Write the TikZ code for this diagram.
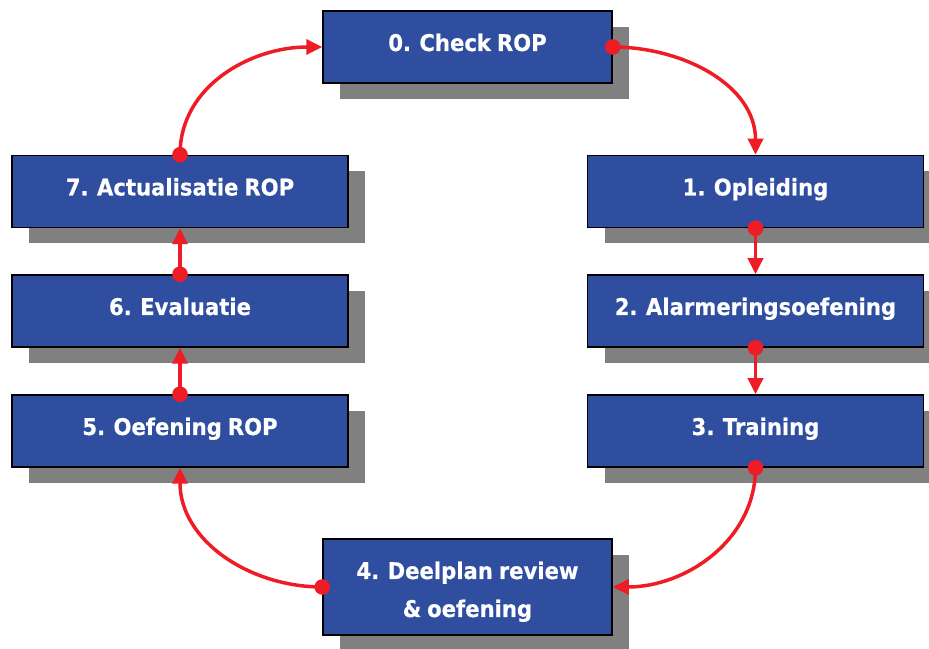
\documentclass[tikz,border=0pt]{standalone}
\usepackage{fontspec}
\setmainfont{DejaVu Sans}[FakeStretch=0.92, WordSpace=0.8, FakeBold=0.4]
\usetikzlibrary{arrows.meta,shadows}
\definecolor{boxblue}{HTML}{2F4EA0}
\definecolor{arrred}{HTML}{EE1C25}
\definecolor{shadowgray}{HTML}{808080}
\tikzset{
  stepbox/.style={draw=black, line width=1.5pt, fill=boxblue, rectangle, inner sep=0pt,
    minimum height=72pt, text=white,
    font=\fontsize{23}{38}\selectfont\bfseries,
    text height=16pt, text depth=8pt,
    drop shadow={shadow xshift=17pt, shadow yshift=-16pt, opacity=1, fill=shadowgray}},
  widebox/.style={stepbox, minimum width=336pt},
  narrowbox/.style={stepbox, minimum width=289pt},
  flow/.style={draw=arrred, line width=3.5pt, -{Triangle[length=16pt,width=15pt]}},
  dot/.style={fill=arrred}
}
\begin{document}
\begin{tikzpicture}[x=1pt,y=1pt]
\useasboundingbox (0,0) rectangle (929,648);
\node[narrowbox] (n0) at (467.5,601) {0. Check ROP};
\node[widebox] (n1) at (755.5,456.5) {1. Opleiding};
\node[widebox] (n2) at (755.5,337) {2. Alarmeringsoefening};
\node[widebox] (n3) at (755.5,217) {3. Training};
\node[narrowbox, minimum height=96pt, align=center, text height=62pt, text depth=2pt] (n4) at (467.5,61) {4. Deelplan review\\\& oefening};
\node[widebox] (n5) at (180,217) {5. Oefening ROP};
\node[widebox] (n6) at (180,337) {6. Evaluatie};
\node[widebox] (n7) at (180,456.5) {7. Actualisatie ROP};

\draw[flow] (n0.east) to[out=0,in=90] (n1.north);
\draw[flow] (n1.south) -- (n2.north);
\draw[flow] (n2.south) -- (n3.north);
\draw[flow] (n3.south) to[out=-90,in=0] (n4.east);
\draw[flow] (n4.west) to[out=180,in=-90] (n5.south);
\draw[flow] (n5.north) -- (n6.south);
\draw[flow] (n6.north) -- (n7.south);
\draw[flow] (n7.north) to[out=90,in=180] (n0.west);

\fill[dot] (n0.east) circle (7.8pt);
\fill[dot] (n1.south) circle (7.8pt);
\fill[dot] (n2.south) circle (7.8pt);
\fill[dot] (n3.south) circle (7.8pt);
\fill[dot] (n4.west) circle (7.8pt);
\fill[dot] (n5.north) circle (7.8pt);
\fill[dot] (n6.north) circle (7.8pt);
\fill[dot] (n7.north) circle (7.8pt);
\end{tikzpicture}
\end{document}
